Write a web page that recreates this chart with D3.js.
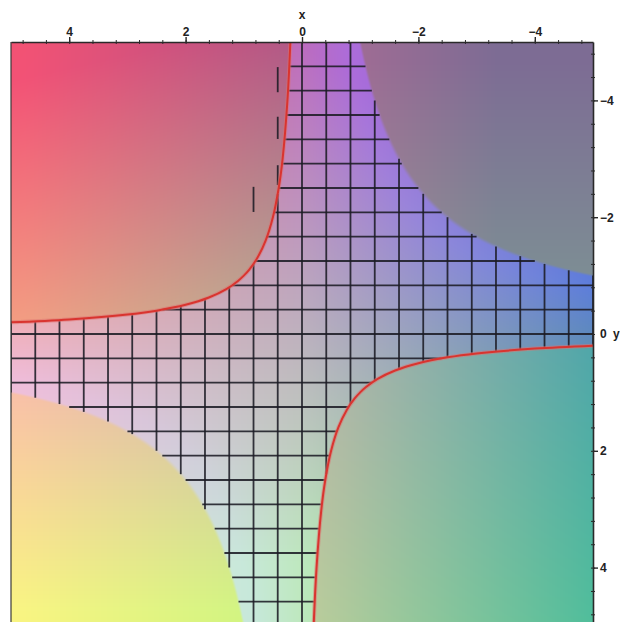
<!DOCTYPE html>
<html>
<head>
<meta charset="utf-8">
<script src="https://cdn.jsdelivr.net/npm/d3@7"></script>
<style>
  html, body { margin: 0; padding: 0; background: #fff; }
  svg { display: block; }
  text { font-family: "Liberation Sans", Arial, sans-serif; }
</style>
</head>
<body>
<svg id="chart" width="620" height="622"></svg>
<script>
// ---------- data ----------
// x axis (reversed: +4 on the left) and y axis (−4 at top) tick labels
const xTickValues = [4, 2, 0, -2, -4];
const yTickValues = [-4, -2, 0, 2, 4];
// 25 mesh lines of the 3-D surface grid over [-5, 5]
const gridValues = [-5, -4.583, -4.167, -3.75, -3.333, -2.917, -2.5, -2.083, -1.667, -1.25, -0.833, -0.417,
                    0, 0.417, 0.833, 1.25, 1.667, 2.083, 2.5, 2.917, 3.333, 3.75, 4.167, 4.583, 5];
// the surface mesh is visible where productLow < x*y < productHigh
const productLow = -1;
const productHigh = 5;
// red curve x*y = -1, upper-left branch
const curveUpperLeft = [[5,-0.2],[4,-0.25],[3,-0.333],[2.5,-0.4],[2,-0.5],[1.6,-0.625],[1.3,-0.769],
  [1.1,-0.909],[1,-1],[0.909,-1.1],[0.769,-1.3],[0.625,-1.6],[0.5,-2],[0.4,-2.5],[0.333,-3],[0.25,-4],[0.2,-5]];
// lower-right branch
const curveLowerRight = [[-5,0.2],[-4,0.25],[-3,0.333],[-2.5,0.4],[-2,0.5],[-1.6,0.625],[-1.3,0.769],
  [-1.1,0.909],[-1,1],[-0.909,1.1],[-0.769,1.3],[-0.625,1.6],[-0.5,2],[-0.4,2.5],[-0.333,3],[-0.25,4],[-0.2,5]];
// stray clipped mesh fragments above the upper-left curve
const strayDashes = [
  {x: 0.417, y0: -4.57, y1: -4.14},
  {x: 0.417, y0: -3.72, y1: -3.34},
  {x: 0.417, y0: -2.89, y1: -2.55},
  {x: 0.833, y0: -2.52, y1: -2.09}
];

// ---------- layout ----------
const W = 620, H = 622;
const padL = 11, padR = 593, padT = 42, padB = 626;
const xScale = d3.scaleLinear().domain([5, -5]).range([padL, padR]);
const yScale = d3.scaleLinear().domain([-5, 5]).range([padT, padB]);

const svg = d3.select("#chart");

// ---------- colour field (x→red, y→green, surface height→blue) ----------
function clamp(v, a, b) { return Math.max(a, Math.min(b, v)); }
function smooth(e0, e1, v) { const t = clamp((v - e0) / (e1 - e0), 0, 1); return t * t * (3 - 2 * t); }
function insideColor(x, y, p) {
  const R = clamp(x > 0 ? 190 + 10 * x : 188 + 19 * x, 88, 238);
  const G = clamp(177 + 14 * y + (x < 0 ? 8 * x : 0), 108, 232);
  const B = clamp(190 + 7 * p, 172, 218);
  return [R, G, B];
}
function outsideColor(x, y, p) {
  if (p < 0) {
    if (x > 0) { // upper-left
      return [clamp(175 + 14 * x, 0, 242), clamp(180 + 18 * y - 4 * x, 82, 172), clamp(150 - 4 * x + 3 * y, 104, 160)];
    } else {     // lower-right
      return [clamp(190 + 22 * x, 72, 200), clamp(180 + 5 * y + 3 * x, 140, 205), clamp(170 - 3 * y, 150, 175)];
    }
  } else {
    if (x < 0) { // upper-right
      return [Math.max(125, 172 + 14 * x), clamp(150 + 9 * y, 108, 150), 148];
    } else {     // lower-left
      return [clamp(200 + 10 * x, 0, 248), clamp(178 + 14 * y, 0, 244), clamp(178 - 10 * y, 128, 178)];
    }
  }
}
function colorAt(x, y) {
  const p = x * y;
  const cin = insideColor(x, y, p);
  const cout = outsideColor(x, y, p);
  const w = p < productLow ? 0 : 1 - smooth(productHigh - 0.15, productHigh + 0.15, p);
  return [0, 1, 2].map(k => cin[k] * w + cout[k] * (1 - w));
}
const canvas = document.createElement("canvas");
canvas.width = W; canvas.height = H;
const ctx = canvas.getContext("2d");
const img = ctx.createImageData(W, H);
for (let py = padT; py < H; py++) {
  for (let px = padL; px < padR; px++) {
    const c = colorAt(xScale.invert(px + 0.5), yScale.invert(py + 0.5));
    const i = (py * W + px) * 4;
    img.data[i] = c[0]; img.data[i + 1] = c[1]; img.data[i + 2] = c[2]; img.data[i + 3] = 255;
  }
}
ctx.putImageData(img, 0, 0);
svg.append("image").attr("x", 0).attr("y", 0).attr("width", W).attr("height", H)
  .attr("href", canvas.toDataURL());

// ---------- mesh ----------
function interval(c) {
  if (Math.abs(c) < 1e-9) return [-5, 5];
  let lo, hi;
  if (c > 0) { lo = productLow / c; hi = productHigh / c; }
  else { lo = productHigh / c; hi = productLow / c; }
  return [Math.max(-5, lo), Math.min(5, hi)];
}
const plot = svg.append("g");
plot.append("clipPath").attr("id", "clip").append("rect")
  .attr("x", padL).attr("y", padT).attr("width", padR - padL).attr("height", H - padT);
const mesh = plot.append("g").attr("clip-path", "url(#clip)")
  .attr("stroke", "#1b1b24").attr("stroke-width", 1.8).attr("stroke-opacity", 0.88);
const segs = [];
gridValues.forEach(c => {
  const [lo, hi] = interval(c);
  if (lo < hi) {
    segs.push({x1: c, y1: lo, x2: c, y2: hi});
    segs.push({x1: lo, y1: c, x2: hi, y2: c});
  }
});
strayDashes.forEach(d => segs.push({x1: d.x, y1: d.y0, x2: d.x, y2: d.y1}));
mesh.selectAll("line").data(segs).join("line")
  .attr("x1", d => xScale(d.x1)).attr("y1", d => yScale(d.y1))
  .attr("x2", d => xScale(d.x2)).attr("y2", d => yScale(d.y2));

// ---------- red curves ----------
const line = d3.line().x(d => xScale(d[0])).y(d => yScale(d[1])).curve(d3.curveCatmullRom);
const curves = plot.append("g").attr("clip-path", "url(#clip)");
curves.selectAll("path.halo").data([curveUpperLeft, curveLowerRight]).join("path")
  .attr("class", "halo").attr("d", line).attr("fill", "none")
  .attr("stroke", "#e07070").attr("stroke-opacity", 0.5).attr("stroke-width", 4);
curves.selectAll("path.red").data([curveUpperLeft, curveLowerRight]).join("path")
  .attr("class", "red").attr("d", line).attr("fill", "none")
  .attr("stroke", "#d9342f").attr("stroke-width", 2);

// ---------- frame & axes ----------
const fmt = d => d < 0 ? "\u2212" + Math.abs(d) : String(d);
const minorX = d3.range(-4.8, 4.81, 0.4);
const minorY = d3.range(-4.8, 4.81, 0.4);

svg.append("line").attr("x1", padL).attr("x2", padL).attr("y1", padT).attr("y2", H)
  .attr("stroke", "#3a3a3a").attr("stroke-width", 1.2);

const gxMinor = svg.append("g").attr("transform", `translate(0,${padT + 2})`)
  .call(d3.axisTop(xScale).tickValues(minorX).tickSize(4).tickSizeOuter(0).tickFormat(""));
const gx = svg.append("g").attr("transform", `translate(0,${padT})`)
  .call(d3.axisTop(xScale).tickValues(xTickValues).tickSize(5).tickSizeOuter(0).tickPadding(1).tickFormat(fmt));
const gyMinor = svg.append("g").attr("transform", `translate(${padR - 2},0)`)
  .call(d3.axisRight(yScale).tickValues(minorY).tickSize(4).tickSizeOuter(0).tickFormat(""));
const gy = svg.append("g").attr("transform", `translate(${padR},0)`)
  .call(d3.axisRight(yScale).tickValues(yTickValues).tickSize(5).tickSizeOuter(0).tickPadding(2).tickFormat(fmt));

[gxMinor, gyMinor].forEach(g => {
  g.select(".domain").remove();
  g.selectAll(".tick line").attr("stroke", "#2a2a2a").attr("stroke-width", 1);
});
[gx, gy].forEach(g => {
  g.select(".domain").attr("stroke", "#2a2a2a").attr("stroke-width", 1.6);
  g.selectAll(".tick line").attr("stroke", "#2a2a2a").attr("stroke-width", 1.4);
  g.selectAll(".tick text").attr("fill", "#222").attr("font-size", 12).attr("font-weight", "bold");
});
gy.selectAll(".tick").filter(d => d === 0).select("line").remove();

svg.append("text").attr("x", xScale(0)).attr("y", 19).attr("text-anchor", "middle")
  .attr("font-size", 12).attr("font-weight", "bold").attr("fill", "#222").text("x");
svg.append("text").attr("x", 613).attr("y", yScale(0)).attr("dy", "0.32em")
  .attr("font-size", 12).attr("font-weight", "bold").attr("fill", "#222").text("y");
</script>
</body>
</html>
